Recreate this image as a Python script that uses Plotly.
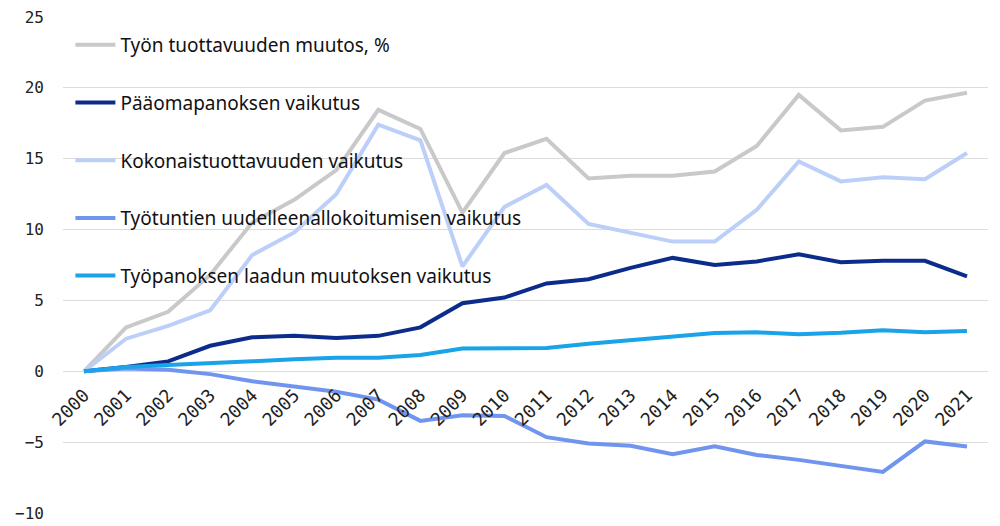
import plotly.graph_objects as go

years = [str(y) for y in range(2000, 2022)]

tyon_tuottavuus = [0, 3.1, 4.2, 6.8, 10.5, 12.1, 14.2, 18.45, 17.1, 11.2, 15.4, 16.4,
                   13.6, 13.8, 13.8, 14.1, 15.9, 19.5, 17.0, 17.25, 19.1, 19.65]
paaomapanos = [0, 0.3, 0.7, 1.8, 2.4, 2.5, 2.35, 2.5, 3.1, 4.8, 5.2, 6.2,
               6.5, 7.3, 8.0, 7.5, 7.75, 8.25, 7.7, 7.8, 7.8, 6.7]
kokonaistuottavuus = [0, 2.3, 3.2, 4.3, 8.2, 9.8, 12.5, 17.4, 16.3, 7.4, 11.6, 13.15,
                      10.4, 9.75, 9.15, 9.15, 11.4, 14.8, 13.4, 13.7, 13.55, 15.4]
tyotuntien_allokointi = [0, 0.2, 0.1, -0.2, -0.7, -1.05, -1.45, -2.0, -3.5, -3.1, -3.15, -4.65,
                         -5.1, -5.25, -5.85, -5.3, -5.9, -6.25, -6.7, -7.1, -4.95, -5.3]
laadun_muutos = [0, 0.3, 0.45, 0.55, 0.7, 0.85, 0.95, 0.95, 1.15, 1.6, 1.65, 1.65,
                 1.95, 2.2, 2.5, 2.7, 2.75, 2.62, 2.72, 2.9, 2.75, 2.85]

series = [
    ("Työn tuottavuuden muutos, %", tyon_tuottavuus, "#c9c9c9"),
    ("Pääomapanoksen vaikutus", paaomapanos, "#0c2c8c"),
    ("Kokonaistuottavuuden vaikutus", kokonaistuottavuus, "#bccff8"),
    ("Työtuntien uudelleenallokoitumisen vaikutus", tyotuntien_allokointi, "#7195ef"),
    ("Työpanoksen laadun muutoksen vaikutus", laadun_muutos, "#1aa3e8"),
]

fig = go.Figure()
for i, (name, vals, color) in enumerate(series):
    fig.add_trace(go.Scatter(
        x=years, y=vals, name=name, mode="lines",
        line=dict(color=color, width=4),
        legendgroup=f"g{i}",
    ))

ymin, ymax = -10, 25
fig.update_layout(
    width=1000, height=526,
    margin=dict(l=63, r=12, t=17, b=13, autoexpand=False),
    paper_bgcolor="white", plot_bgcolor="white",
    font=dict(family="DejaVu Sans Mono", size=15, color="#222222"),
    showlegend=True,
    legend=dict(
        x=0.008, y=0.982, xanchor="left", yanchor="top",
        bgcolor="rgba(0,0,0,0)",
        font=dict(family="Noto Sans", size=19, color="#111111"),
        tracegroupgap=30,
        itemwidth=40,
    ),
    xaxis=dict(
        type="category",
        range=[-0.5, len(years) - 0.5],
        anchor="free",
        position=(0 - ymin) / (ymax - ymin),
        tickangle=-45,
        showgrid=False,
        showline=False,
        ticks="",
        automargin=False,
        ticklabelstandoff=9,
        tickfont=dict(family="DejaVu Sans Mono", size=18, color="#222222"),
    ),
    yaxis=dict(
        range=[ymin, ymax],
        dtick=5,
        tick0=0,
        showgrid=True,
        gridcolor="#dcdcdc",
        gridwidth=1,
        zeroline=False,
        showline=False,
        ticks="",
        automargin=False,
        ticklabelstandoff=18,
        tickfont=dict(family="DejaVu Sans Mono", size=16, color="#222222"),
    ),
)

fig.write_html("out.html", config={"displayModeBar": False},
               post_script="document.body.style.margin='0';")
